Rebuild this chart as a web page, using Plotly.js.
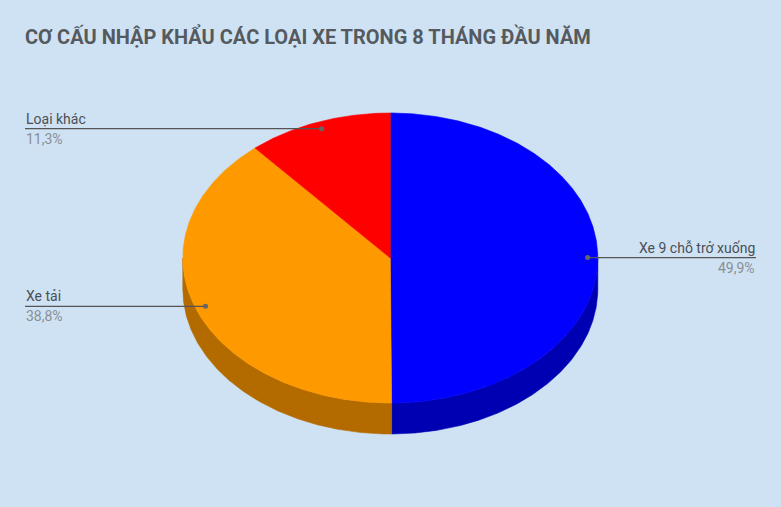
<!DOCTYPE html>
<html><head><meta charset="utf-8">
<script src="https://cdn.plot.ly/plotly-3.0.1.min.js"></script>
<style>html,body{margin:0;padding:0;background:#cfe2f3}</style>
</head>
<body><div id="chart" style="width:781px;height:507px"></div>
<script>
const chartTitle = "CƠ CẤU NHẬP KHẨU CÁC LOẠI XE TRONG 8 THÁNG ĐẦU NĂM";
const labels = ["Xe 9 chỗ trở xuống", "Xe tải", "Loại khác"];
const values = [49.9, 38.8, 11.3];
const percentText = ["49,9%", "38,8%", "11,3%"];
const topColors = ["#0000ff", "#ff9900", "#ff0000"];
const sideColors = ["#0000b3", "#b36b00", "#b30000"];

// pie geometry in pixel space of a hidden cartesian frame
const CX = 390.3, CY = 258, RX = 207.5, RY = 145, DEPTH = 31;
const DOT_R = 0.951, LEFT_X = 25, RIGHT_X = 756;
const W = 781, H = 507;

const total = values.reduce((a, b) => a + b, 0);
const rad = d => d * Math.PI / 180;
const px = (a, r = 1) => CX + RX * r * Math.sin(rad(a));
const py = (a, r = 1, dy = 0) => CY - RY * r * Math.cos(rad(a)) + dy;

function arc(a1, a2, dy) {
  const xs = [], ys = [];
  const n = Math.max(2, Math.ceil(Math.abs(a2 - a1) / 0.5));
  for (let i = 0; i <= n; i++) {
    const a = a1 + (a2 - a1) * i / n;
    xs.push(px(a)); ys.push(py(a, 1, dy));
  }
  return [xs, ys];
}

const sides = [], tops = [], leaders = [], annotations = [];
let start = 0;
values.forEach((v, i) => {
  const a1 = start, a2 = start + v / total * 360;
  start = a2;
  // visible side wall: front half (90..270 deg clockwise from top)
  const s1 = Math.max(a1, 90), s2 = Math.min(a2, 270);
  if (s2 > s1) {
    const [tx, ty] = arc(s1, s2, 0);
    const [bx, by] = arc(s2, s1, DEPTH);
    sides.push({type: 'scatter', mode: 'lines', x: tx.concat(bx, [tx[0]]), y: ty.concat(by, [ty[0]]),
      fill: 'toself', fillcolor: sideColors[i], line: {color: sideColors[i], width: 0.6}, hoverinfo: 'skip'});
  }
  const [ax, ay] = arc(a1, a2, 0);
  tops.push({type: 'scatter', mode: 'lines', x: [CX].concat(ax, [CX]), y: [CY].concat(ay, [CY]),
    fill: 'toself', fillcolor: topColors[i], line: {color: topColors[i], width: 0.6}, hoverinfo: 'skip'});
  // leader line
  const mid = (a1 + a2) / 2;
  const dx = px(mid, DOT_R), dyv = py(mid, DOT_R);
  const right = dx > CX;
  const lx = right ? [dx, RIGHT_X] : [LEFT_X, dx];
  leaders.push({type: 'scatter', mode: 'lines', x: lx, y: [dyv, dyv], line: {color: '#555555', width: 1.2}, hoverinfo: 'skip'});
  leaders.push({type: 'scatter', mode: 'markers', x: [dx], y: [dyv], marker: {color: '#666666', size: 5}, hoverinfo: 'skip'});
  const tx = right ? RIGHT_X : LEFT_X, anc = right ? 'right' : 'left';
  annotations.push({xref: 'x', yref: 'y', x: tx, y: dyv - 10, xanchor: anc, yanchor: 'middle', showarrow: false,
    borderpad: 0, text: labels[i], font: {family: 'Roboto', size: 14, color: '#4a4f55'}});
  annotations.push({xref: 'x', yref: 'y', x: tx, y: dyv + 10, xanchor: anc, yanchor: 'middle', showarrow: false,
    borderpad: 0, text: percentText[i], font: {family: 'Roboto', size: 14, color: '#8a8f94'}});
});

const layout = {
  width: W, height: H,
  margin: {l: 0, r: 0, t: 0, b: 0},
  paper_bgcolor: '#cfe2f3', plot_bgcolor: '#cfe2f3',
  showlegend: false, hovermode: false,
  xaxis: {range: [0, W], visible: false, fixedrange: true},
  yaxis: {range: [H, 0], visible: false, fixedrange: true},
  title: {text: '<b>' + chartTitle + '</b>', xref: 'container', yref: 'container',
    x: LEFT_X / W, xanchor: 'left', y: 1 - 37 / H, yanchor: 'middle',
    font: {family: 'Roboto', size: 20, color: '#555a5f'}},
  annotations: annotations
};
Plotly.newPlot('chart', sides.concat(tops, leaders), layout, {staticPlot: true, displayModeBar: false});
</script>
</body></html>
